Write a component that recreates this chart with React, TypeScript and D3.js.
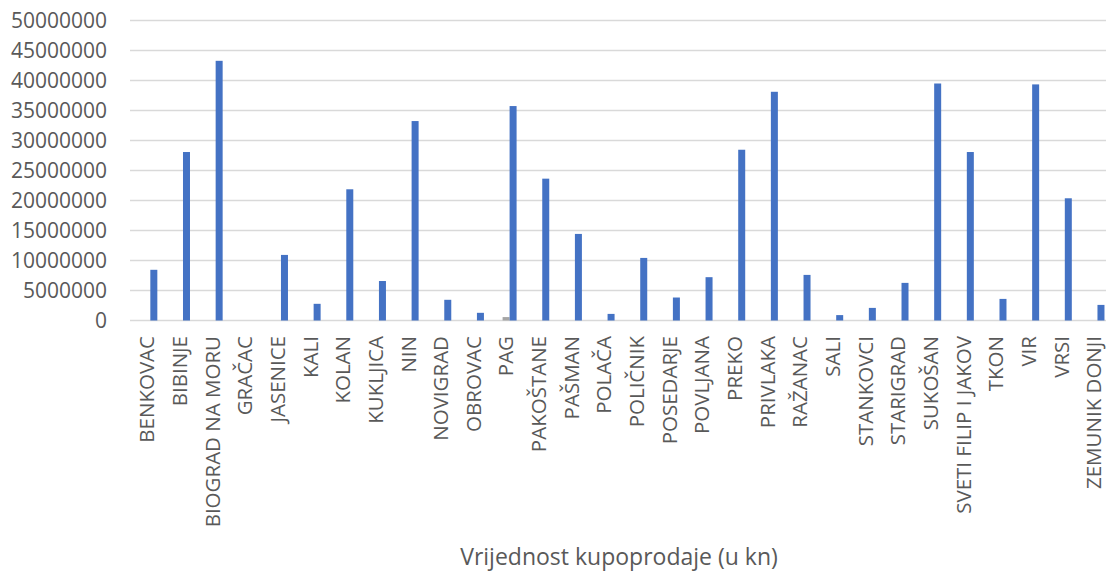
import { useEffect, useRef } from 'react';
import * as d3 from 'd3';

// categories on the x axis (one per municipality)
const categories = [
  'BENKOVAC', 'BIBINJE', 'BIOGRAD NA MORU', 'GRAČAC', 'JASENICE', 'KALI', 'KOLAN',
  'KUKLJICA', 'NIN', 'NOVIGRAD', 'OBROVAC', 'PAG', 'PAKOŠTANE', 'PAŠMAN', 'POLAČA',
  'POLIČNIK', 'POSEDARJE', 'POVLJANA', 'PREKO', 'PRIVLAKA', 'RAŽANAC', 'SALI',
  'STANKOVCI', 'STARIGRAD', 'SUKOŠAN', 'SVETI FILIP I JAKOV', 'TKON', 'VIR', 'VRSI',
  'ZEMUNIK DONJI',
];

// main (blue) series
const blueValues = [
  8450000, 28080000, 43280000, 0, 10930000, 2780000, 21870000,
  6580000, 33240000, 3450000, 1280000, 35740000, 23640000, 14430000, 1100000,
  10430000, 3830000, 7220000, 28460000, 38120000, 7600000, 900000,
  2100000, 6270000, 39500000, 28080000, 3600000, 39350000, 20370000,
  2600000,
];

// second (grey) series, only visible at PAG
const greyValues = [
  0, 0, 0, 0, 0, 0, 0,
  0, 0, 0, 0, 570000, 0, 0, 0,
  0, 0, 0, 0, 0, 0, 0,
  0, 0, 0, 0, 0, 0, 0,
  0,
];

// slot order inside a category: an empty series, then grey, then blue
const seriesSlots = ['empty', 'grey', 'blue'];

const yTicks = [0, 5000000, 10000000, 15000000, 20000000, 25000000, 30000000, 35000000, 40000000, 45000000, 50000000];

const axisTitle = 'Vrijednost kupoprodaje (u kn)';

export default function App() {
  const svgRef = useRef<SVGSVGElement>(null);

  useEffect(() => {
    const width = 1106;
    const height = 573;
    const font = '"Open Sans", "Noto Sans", sans-serif';
    const textColor = '#595959';

    const svg = d3.select(svgRef.current);
    svg.selectAll('*').remove();
    svg.attr('width', width).attr('height', height);

    const p = 0.357;
    const x0 = d3.scaleBand<string>()
      .domain(categories)
      .range([130.5, 1110.3])
      .paddingInner(p)
      .paddingOuter(p / 2);

    const x1 = d3.scaleBand<string>()
      .domain(seriesSlots)
      .range([0, x0.bandwidth()]);

    const y = d3.scaleLinear()
      .domain([0, 50000000])
      .range([320.5, 20.5]);

    // gridlines
    svg.append('g')
      .selectAll('line')
      .data(yTicks)
      .join('line')
        .attr('x1', 130)
        .attr('x2', width)
        .attr('y1', d => y(d))
        .attr('y2', d => y(d))
        .attr('stroke', '#d9d9d9')
        .attr('stroke-width', 1.3);

    // y tick labels
    svg.append('g')
      .selectAll('text')
      .data(yTicks)
      .join('text')
        .attr('x', 107)
        .attr('y', d => y(d))
        .attr('dy', '0.36em')
        .attr('text-anchor', 'end')
        .attr('font-family', font)
        .attr('font-size', 21)
        .attr('fill', textColor)
        .text(d => String(d));

    const rows = categories.map((c, i) => ({ c, grey: greyValues[i], blue: blueValues[i] }));

    const groups = svg.append('g')
      .selectAll('g')
      .data(rows)
      .join('g')
        .attr('transform', d => `translate(${x0(d.c)},0)`);

    groups.filter(d => d.grey > 0)
      .append('rect')
        .attr('x', x1('grey')!)
        .attr('width', x1.bandwidth())
        .attr('y', d => y(d.grey))
        .attr('height', d => y(0) - y(d.grey))
        .attr('fill', '#a5a5a5');

    groups.filter(d => d.blue > 0)
      .append('rect')
        .attr('x', x1('blue')!)
        .attr('width', x1.bandwidth())
        .attr('y', d => y(d.blue))
        .attr('height', d => y(0) - y(d.blue))
        .attr('fill', '#4472c4');

    // rotated category labels
    svg.append('g')
      .selectAll('text')
      .data(categories)
      .join('text')
        .attr('transform', d => `translate(${x0(d)! + x0.bandwidth() / 2},336) rotate(-90)`)
        .attr('dy', '0.36em')
        .attr('text-anchor', 'end')
        .attr('font-family', font)
        .attr('font-size', 20.5)
        .attr('fill', textColor)
        .text(d => d);

    svg.append('text')
      .attr('x', 619)
      .attr('y', 565)
      .attr('text-anchor', 'middle')
      .attr('font-family', font)
      .attr('font-size', 23)
      .attr('fill', textColor)
      .text(axisTitle);
  }, []);

  return (
    <svg
      ref={svgRef}
      style={{ position: 'absolute', left: 0, top: 0, display: 'block', background: '#fff' }}
    />
  );
}
